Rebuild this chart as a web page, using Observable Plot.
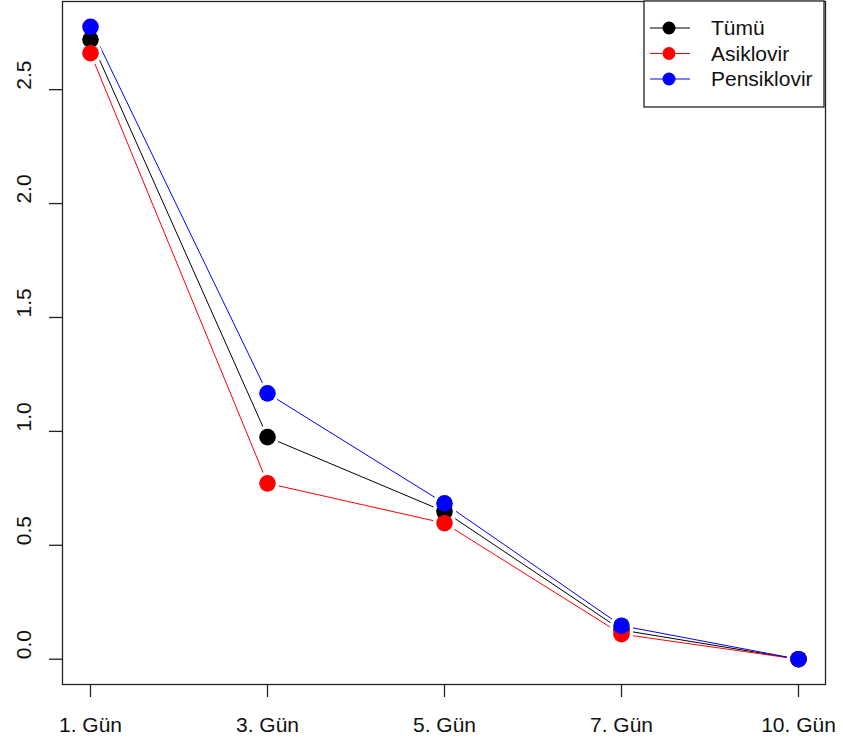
<!DOCTYPE html>
<html>
<head>
<meta charset="utf-8">
<script src="https://cdn.jsdelivr.net/npm/d3@7"></script>
<script src="https://cdn.jsdelivr.net/npm/@observablehq/plot@0.6"></script>
<style>
  html, body { margin: 0; padding: 0; background: #fff; }
  #chart svg { display: block; }
</style>
</head>
<body>
<div id="chart"></div>
<script>
// Mean scores per visit day, for all patients and by treatment group
const days = ["1. Gün", "3. Gün", "5. Gün", "7. Gün", "10. Gün"];
const tumu = [2.72, 0.975, 0.648, 0.128, 0.0];
const asiklovir = [2.66, 0.772, 0.597, 0.11, 0.0];
const pensiklovir = [2.776, 1.167, 0.684, 0.147, 0.0];
const seriesNames = ["Tümü", "Asiklovir", "Pensiklovir"];
const seriesColors = ["#000000", "#ff0000", "#0000ff"];
const yTicks = [0, 0.5, 1.0, 1.5, 2.0, 2.5];

const seriesValues = [tumu, asiklovir, pensiklovir];
const rows = seriesNames.flatMap((name, s) =>
  days.map((day, i) => ({series: name, day, value: seriesValues[s][i]}))
);

// R-style axis ranges: data range expanded by 4% on each side
const yMax = d3.max(rows, d => d.value);
const yMin = d3.min(rows, d => d.value);
const ySpan = yMax - yMin;

const font = "'Liberation Sans', Arial, Helvetica, sans-serif";
const fs = 21;
const W = 843, H = 746;
const mL = 62, mR = 18, mT = 1, mB = 62;

const chart = Plot.plot({
  width: W,
  height: H,
  marginLeft: mL,
  marginRight: mR,
  marginTop: mT,
  marginBottom: mB,
  style: {fontFamily: font, fontSize: fs + "px", color: "#111", background: "#fff"},
  x: {type: "point", domain: days, padding: 0.155, label: null},
  y: {domain: [yMin - 0.04 * ySpan, yMax + 0.04 * ySpan], label: null},
  color: {domain: seriesNames, range: seriesColors},
  marks: [
    Plot.axisX({tickSize: 13, tickPadding: 20, fontSize: fs, stroke: "#222", strokeWidth: 1.3, tickFormat: d => d}),
    Plot.axisY({ticks: yTicks, tickSize: 13, tickFormat: () => "", stroke: "#222", strokeWidth: 1.3}),
    Plot.text(yTicks, {
      y: d => d,
      frameAnchor: "left",
      dx: -38,
      rotate: -90,
      text: d => d3.format(".1f")(d),
      fontSize: fs,
      fill: "#111"
    }),
    Plot.line(rows, {x: "day", y: "value", z: "series", stroke: "series", strokeWidth: 1}),
    // white halos leave the small gap between each line and its points
    Plot.dot(rows, {x: "day", y: "value", r: 11.5, fill: "#fff", stroke: "none"}),
    Plot.dot(rows, {x: "day", y: "value", r: 8.3, fill: "series", stroke: "none"}),
    Plot.frame({stroke: "#222", strokeWidth: 1.3})
  ]
});

// Legend box in the top-right corner of the panel
const svg = d3.select(chart);
const legend = svg.append("g")
  .attr("font-family", font)
  .attr("font-size", fs)
  .attr("text-anchor", "start");
const boxX = 644, boxY = 1, boxW = 180, boxH = 106;
legend.append("rect")
  .attr("x", boxX).attr("y", boxY).attr("width", boxW).attr("height", boxH)
  .attr("fill", "#fff").attr("stroke", "#222").attr("stroke-width", 1.3);
seriesNames.forEach((name, i) => {
  const cy = 28 + i * 25.5;
  const g = legend.append("g");
  g.append("line")
    .attr("x1", 650).attr("x2", 690).attr("y1", cy).attr("y2", cy)
    .attr("stroke", seriesColors[i]).attr("stroke-width", 1);
  g.append("circle")
    .attr("cx", 669).attr("cy", cy).attr("r", 6.5)
    .attr("fill", seriesColors[i]);
  g.append("text")
    .attr("x", 711).attr("y", cy).attr("dy", "0.35em")
    .attr("text-anchor", "start")
    .attr("fill", "#111")
    .text(name);
});

document.getElementById("chart").appendChild(chart);
</script>
</body>
</html>
